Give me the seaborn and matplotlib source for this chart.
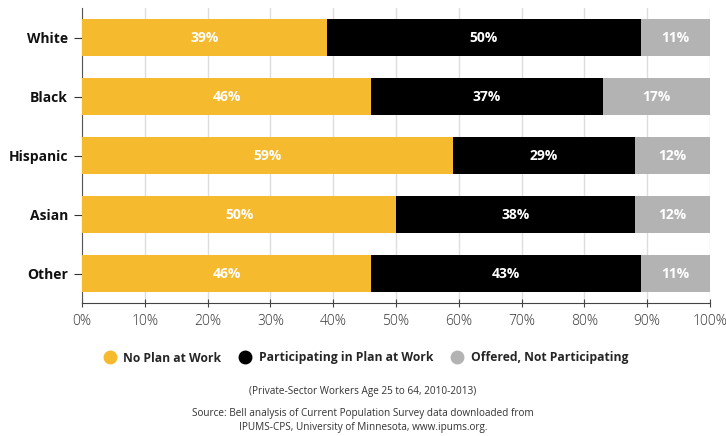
import matplotlib
matplotlib.use("Agg")
import matplotlib.pyplot as plt
from matplotlib.lines import Line2D
from matplotlib.ticker import PercentFormatter
import seaborn as sns
import numpy as np
import pandas as pd

groups = ["White", "Black", "Hispanic", "Asian", "Other"]
no_plan = [39, 46, 59, 50, 46]
participating = [50, 37, 29, 38, 43]
offered_not = [11, 17, 12, 12, 11]
series_names = ["No Plan at Work", "Participating in Plan at Work", "Offered, Not Participating"]
colors = ["#F6BA2E", "#000000", "#B3B3B3"]

sns.set_style("white")
plt.rcParams["font.family"] = ["Open Sans", "DejaVu Sans"]

df = pd.DataFrame({
    "group": groups,
    "no_plan": no_plan,
    "participating": participating,
    "offered": offered_not,
})
df["c1"] = df["no_plan"]
df["c2"] = df["no_plan"] + df["participating"]
df["c3"] = df["c2"] + df["offered"]

fig = plt.figure(figsize=(7.26, 4.36), dpi=100)
ax = fig.add_axes([82 / 726, 1 - 303 / 436, (710 - 82) / 726, (303 - 8) / 436])

for col, color in zip(["c3", "c2", "c1"], colors[::-1]):
    sns.barplot(data=df, x=col, y="group", order=groups, color=color,
                width=0.63, ax=ax, saturation=1, edgecolor="none", zorder=3)

starts = [np.zeros(len(groups)), np.array(no_plan), np.array(no_plan) + np.array(participating)]
for vals, st in zip([no_plan, participating, offered_not], starts):
    for i, (v, s) in enumerate(zip(vals, st)):
        ax.text(s + v / 2, i, f"{v}%", ha="center", va="center", color="white",
                fontsize=10, fontweight="bold", zorder=5)

ax.set_xlim(0, 100)
ax.set_ylim(4.5, -0.5)
ax.set_xticks(range(0, 101, 10))
ax.xaxis.set_major_formatter(PercentFormatter(decimals=0))
ax.set_xlabel("")
ax.set_ylabel("")
ax.grid(axis="x", color="#DDDDDD", linewidth=1, zorder=0)
ax.set_axisbelow(True)
for s in ["top", "right"]:
    ax.spines[s].set_visible(False)
ax.spines["left"].set_color("#555555")
ax.spines["bottom"].set_color("#444444")
ax.tick_params(axis="y", left=True, length=6, color="#333333", labelsize=10, pad=4, labelcolor="#111111")
ax.tick_params(axis="x", bottom=True, length=6, direction="inout", color="#444444", labelsize=10,
               labelcolor="#333333", pad=5)
for lab in ax.get_yticklabels():
    lab.set_fontweight("bold")
for lab in ax.get_xticklabels():
    lab.set_fontweight("light")

handles = [Line2D([0], [0], marker="o", linestyle="none", markersize=9,
                  markerfacecolor=c, markeredgecolor=c) for c in colors]
fig.legend(handles, series_names, loc="center", bbox_to_anchor=(0.5, 1 - 358 / 436),
           ncol=3, frameon=False, handletextpad=0.1, columnspacing=1.0,
           prop={"weight": "bold", "size": 8.7})

fig.text(0.5, 1 - 391 / 436, "(Private-Sector Workers Age 25 to 64, 2010-2013)",
         ha="center", va="center", fontsize=7.2, color="#333333")
fig.text(0.5, 1 - 413 / 436, "Source: Bell analysis of Current Population Survey data downloaded from",
         ha="center", va="center", fontsize=7.2, color="#333333")
fig.text(0.5, 1 - 427 / 436, "IPUMS-CPS, University of Minnesota, www.ipums.org.",
         ha="center", va="center", fontsize=7.2, color="#333333")

fig.savefig("out.png", dpi=100)
